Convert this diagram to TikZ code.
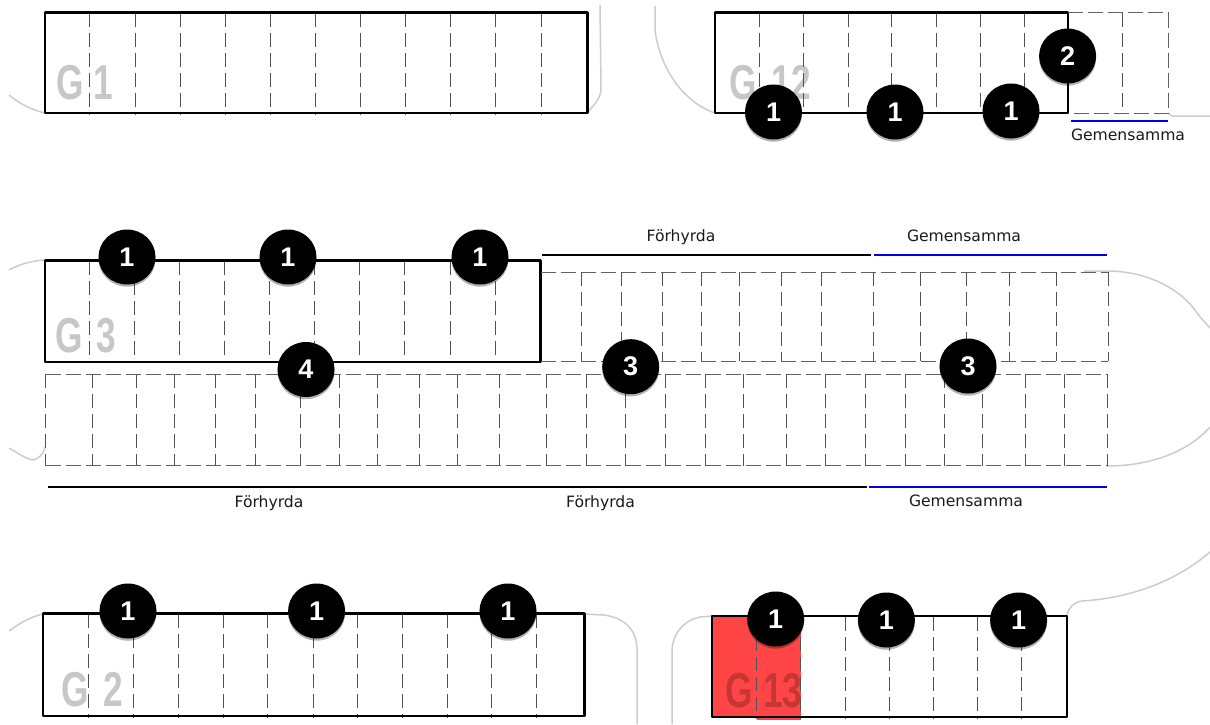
\documentclass[tikz,border=0pt]{standalone}
\usepackage{fontspec}
\setmainfont{DejaVu Sans}
\newfontfamily\numfont{Liberation Sans}
\usetikzlibrary{shapes.geometric,shadows}
\tikzset{
  x=1pt,y=-1pt,
  bay/.style={draw=black!68,line width=.9pt,dash pattern=on 14pt off 6pt},
  outerdash/.style={draw=black!62,line width=1pt,dash pattern=on 15pt off 5pt},
  solidbox/.style={draw=black,line width=2.3pt,line join=round},
  road/.style={draw=black!20,line width=1.5pt},
  badge/.style={ellipse,fill=black,minimum width=57pt,minimum height=55pt,inner sep=0pt,text=white,
    font=\numfont\fontsize{27}{27}\selectfont\bfseries,
    drop shadow={shadow xshift=0pt,shadow yshift=-2.2pt,opacity=.3,fill=black}},
  caption/.style={font=\fontsize{15.6}{15.6}\selectfont,inner sep=0pt,text=black!90},
  blueline/.style={draw=blue!90!black,line width=1.8pt},
  blackline/.style={draw=black,line width=1.8pt},
  garage/.style={font=\numfont\fontsize{49}{49}\selectfont\bfseries,text=black,text opacity=.22,inner sep=0pt,xscale=.72,transform shape},
}
\begin{document}
\begin{tikzpicture}
\useasboundingbox (0,0) rectangle (1210,724);
% roads
\draw[road] (9,95) .. controls (20,104) and (32,110) .. (45,113);
\draw[road] (600,5) -- (601,90) .. controls (600,100) and (592,107) .. (587,113);
\draw[road] (655,6) -- (655,30) .. controls (660,70) and (685,103) .. (715,113);
\draw[road] (1168,113) -- (1172,116) -- (1210,116);
\draw[road] (9,270) .. controls (18,265) and (30,261) .. (44,260);
\draw[road] (9,448) .. controls (18,453) and (26,459) .. (33,460) .. controls (38,459) and (43,455) .. (45,447);
\draw[road] (1084,271) -- (1110,271) .. controls (1150,272) and (1180,290) .. (1195,310) .. controls (1200,318) and (1205,322) .. (1210,328);
\draw[road] (1107,466) .. controls (1145,466) and (1185,455) .. (1210,427);
\draw[road] (9,631) .. controls (20,623) and (30,617) .. (43,614);
\draw[road] (584.5,614) -- (604,615) .. controls (625,618) and (637,630) .. (637,650) -- (637,724);
\draw[road] (712,616) -- (700,617) .. controls (685,620) and (673,632) .. (672,650) -- (672,724);
\draw[road] (1067,616) .. controls (1068,608) and (1074,602) .. (1082,601) .. controls (1130,598) and (1175,582) .. (1210,552);
% red bay
\fill[red!73!white] (712,616) rectangle (800.5,717);
\fill[red!73!white] (757,717) rectangle (800.5,720);
% G labels
\node[garage] (g1) at (85,83) {G\kern13pt 1};
\node[garage] (g12) at (770,83) {G\kern21pt 12};
\node[garage] (g3) at (86,336) {G\kern18pt 3};
\node[garage] (g2) at (92.5,690) {G\kern21pt 2};
\node[garage] (g13) at (764,691) {G\kern14pt 13};
% G1 bays
\foreach \x in {89.5,135,180,225,270,315,360,405.4,450,495.7,541}
  \draw[bay] (\x,13) -- (\x,115);
\draw[solidbox] (45,12.5) rectangle (587.5,113);
% G12 bays
\foreach \x in {759,803,848,891,936,980,1024}
  \draw[bay] (\x,13) -- (\x,113);
\draw[solidbox] (715,12.5) rectangle (1068,113);
\draw[outerdash] (1068,12.5) -- (1168,12.5) -- (1168,113) -- (1068,113);
\draw[bay] (1122,13) -- (1122,113);
% G3 bays
\foreach \x in {89,134,179,224.5,269,314,359.5,404.7,450,495}
  \draw[bay] (\x,261) -- (\x,362);
\draw[solidbox] (44.7,260.5) rectangle (540.5,362);
% upper dashed row
\draw[outerdash] (541,272) -- (1108,272);
\draw[outerdash] (541,361) -- (1108,361);
\foreach \x in {581.7,621.4,662,701.6,739,781.7,821.4,873,920,966,1009,1056,1108}
  \draw[bay] (\x,272) -- (\x,361);
% lower dashed row
\draw[outerdash] (45.5,374) -- (1107,374);
\draw[outerdash] (45.5,465.7) -- (1107,465.7);
\foreach \x in {45.5,92,136,174,215,255.6,300,339,377,419.5,457.6,499,546,586,625.7,665,705,743,786,825,865,905,944,982.5,1025.7,1064,1107}
  \draw[bay] (\x,374) -- (\x,465.7);
% G2 bays
\foreach \x in {88.4,133,178,223,267.6,313,357,402,447,491.7,536}
  \draw[bay] (\x,614) -- (\x,718);
\draw[solidbox] (43,613.5) rectangle (584.5,715.7);
% G13 bays
\foreach \x in {756.4,800.7,845,889,933,977.5,1021.4}
  \draw[bay] (\x,617) -- (\x,719);
\draw[solidbox,line width=2pt] (712,616) rectangle (1067,717);
% section lines
\coordinate (t0) at (542,254.7); \coordinate (t1) at (871,254.7);
\coordinate (t2) at (873.5,254.7); \coordinate (t3) at (1106.6,254.7);
\coordinate (b0) at (48,487.2); \coordinate (b1) at (866.5,487.2);
\coordinate (b2) at (869,487.2); \coordinate (b3) at (1106.6,487.2);
\coordinate (c0) at (1071,121); \coordinate (c1) at (1167.5,121);
\draw[blackline] (t0) -- (t1);
\draw[blueline] (t2) -- (t3);
\draw[blackline] (b0) -- (b1);
\draw[blueline] (b2) -- (b3);
\draw[blueline] (c0) -- (c1);
\node[caption] (l1) at (1128,134.5) {Gemensamma};
\node[caption] (l2) at (681,237.5) {Förhyrda};
\node[caption] (l3) at (964,235.5) {Gemensamma};
\node[caption] (l4) at (269,503) {Förhyrda};
\node[caption] (l5) at (600.5,503) {Förhyrda};
\node[caption] (l6) at (966,500.5) {Gemensamma};
% badges
\node[badge] (a1) at (773.5,112) {1};
\node[badge] (a2) at (895,112) {1};
\node[badge] (a3) at (1011,111) {1};
\node[badge] (a4) at (1067.6,56) {2};
\node[badge] (b1n) at (127,257) {1};
\node[badge] (b2n) at (288,257) {1};
\node[badge] (b3n) at (480,257) {1};
\node[badge] (b4n) at (306,369.5) {4};
\node[badge] (b5n) at (630.7,366.7) {3};
\node[badge] (b6n) at (968,366) {3};
\node[badge] (c1n) at (128,611) {1};
\node[badge] (c2n) at (316.6,611) {1};
\node[badge] (c3n) at (508,611) {1};
\node[badge] (d1n) at (775.7,619) {1};
\node[badge] (d2n) at (886.4,620) {1};
\node[badge] (d3n) at (1018.6,620) {1};
\end{tikzpicture}
\end{document}
